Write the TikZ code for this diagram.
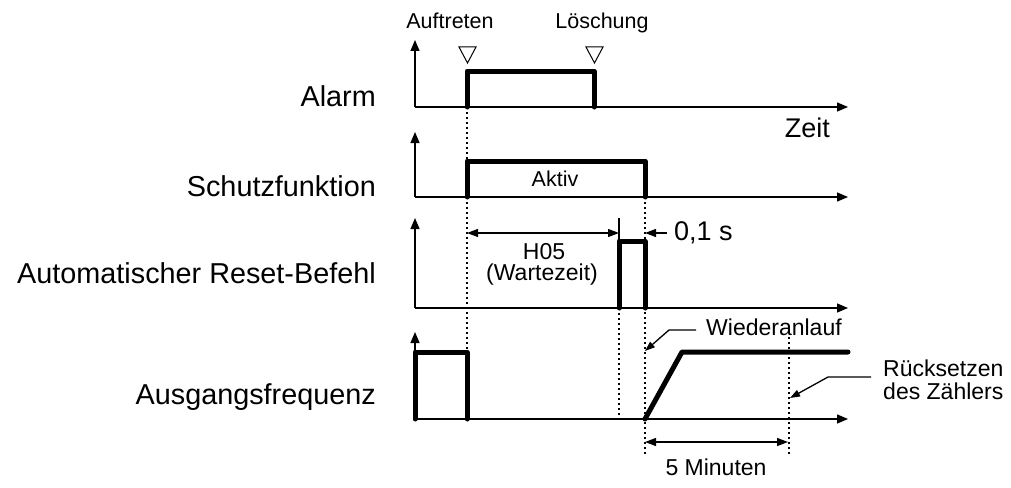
\documentclass[tikz,border=0pt]{standalone}
\usepackage{fontspec}
\setmainfont{Liberation Sans}
\usetikzlibrary{arrows.meta}
\begin{document}
\begin{tikzpicture}[x=1pt,y=-1pt,
  axis/.style={line width=1.3pt,-{Triangle[length=11pt,width=9pt]}},
  sig/.style={line width=5pt,line join=round,line cap=round},
  guide/.style={line width=1.5pt,dash pattern=on 1.5pt off 3.5pt},
  dimarr/.style={line width=1.3pt,{Triangle[length=11pt,width=8pt]}-{Triangle[length=11pt,width=8pt]}},
  onearr/.style={line width=1.3pt,-{Triangle[length=11pt,width=8pt]}},
  callout/.style={line width=1.3pt,-{Triangle[length=10pt,width=7pt]}},
  marker/.style={line width=1pt,line join=miter},
  biglab/.style={inner sep=0pt,anchor=base east,font=\fontsize{28.8}{31}\selectfont},
  midlab/.style={inner sep=0pt,font=\fontsize{27}{29}\selectfont},
  smalllab/.style={inner sep=0pt,font=\fontsize{21.5}{26}\selectfont},
  lowlab/.style={inner sep=0pt,font=\fontsize{23}{27}\selectfont},
]
\useasboundingbox (0,0) rectangle (1011,487);

% row labels
\node[biglab] (lalarm) at (376,106) {Alarm};
\node[biglab] (lschutz) at (376,196) {Schutzfunktion};
\node[biglab] (lreset) at (376,283) {Automatischer Reset-Befehl};
\node[biglab] (lfreq) at (376,404) {Ausgangsfrequenz};

% axes
\foreach \n/\b/\t in {a/107/40, s/197/132, r/308/218, f/419/332}{
  \coordinate (o\n) at (415,\b);
  \coordinate (t\n) at (415,\t);
  \coordinate (e\n) at (848,\b);
  \draw[axis] (o\n) -- (t\n);
  \draw[axis] (o\n) -- (e\n);
}

% guide lines
\coordinate (g1a) at (467,107); \coordinate (g1b) at (467,352);
\coordinate (g2a) at (645,197); \coordinate (g2b) at (645,454);
\coordinate (g3a) at (619,308); \coordinate (g3b) at (619,419);
\coordinate (g4a) at (789,337); \coordinate (g4b) at (789,454);
\draw[guide] (g1a) -- (g1b);
\draw[guide] (g2a) -- (g2b);
\draw[guide] (g3a) -- (g3b);
\draw[guide] (g4a) -- (g4b);

% signals
\draw[sig] (467,107) -- (467,71) -- (594,71) -- (594,107);
\draw[sig] (467,197) -- (467,161) -- (645,161) -- (645,197);
\draw[sig] (619,308) -- (619,241) -- (645,241) -- (645,308);
\draw[sig] (415,419) -- (415,352) -- (467,352) -- (467,419);
\draw[sig] (645,419) -- (682,352) -- (848,352);

% event markers
\draw[marker] (459,47) -- (476,47) -- (467.5,63) -- cycle;
\draw[marker] (586,47) -- (603,47) -- (594.5,63) -- cycle;
\node[smalllab,anchor=base] (auf) at (450,28.5) {Auftreten};
\node[smalllab,anchor=base] (loe) at (602,29) {Löschung};

\node[midlab,anchor=base east] (zeit) at (830,137) {Zeit};
\node[smalllab,anchor=base] (aktiv) at (555,186.5) {Aktiv};

% H05 dimension
\coordinate (h1) at (467,233); \coordinate (h2) at (619,233);
\coordinate (tk1) at (619,218); \coordinate (tk2) at (619,240);
\draw[line width=1.3pt] (tk1) -- (tk2);
\draw[dimarr] (h1) -- (h2);
\node[lowlab,anchor=base] (h05) at (544,259) {H05};
\node[lowlab,anchor=base] (wz) at (542,280) {(Wartezeit)};

% 0,1 s
\coordinate (z1) at (667,233); \coordinate (z2) at (645,233);
\draw[onearr] (z1) -- (z2);
\node[midlab,anchor=base west] (zs) at (674,240) {0,1 s};

% Wiederanlauf
\node[lowlab,anchor=base west] (wa) at (706,335) {Wiederanlauf};
\coordinate (w1) at (696,330); \coordinate (w2) at (669,330); \coordinate (w3) at (645,351);
\draw[callout] (w1) -- (w2) -- (w3);

% Ruecksetzen
\node[lowlab,anchor=base west] (rs) at (883,376) {Rücksetzen};
\node[lowlab,anchor=base west] (dz) at (883,399) {des Zählers};
\coordinate (r1) at (871,377); \coordinate (r2) at (828,377); \coordinate (r3) at (790,398);
\draw[callout] (r1) -- (r2) -- (r3);

% 5 Minuten
\coordinate (m1) at (645,442); \coordinate (m2) at (788,442);
\draw[dimarr] (m1) -- (m2);
\node[lowlab,anchor=base] (min) at (716,475) {5 Minuten};
\end{tikzpicture}
\end{document}
